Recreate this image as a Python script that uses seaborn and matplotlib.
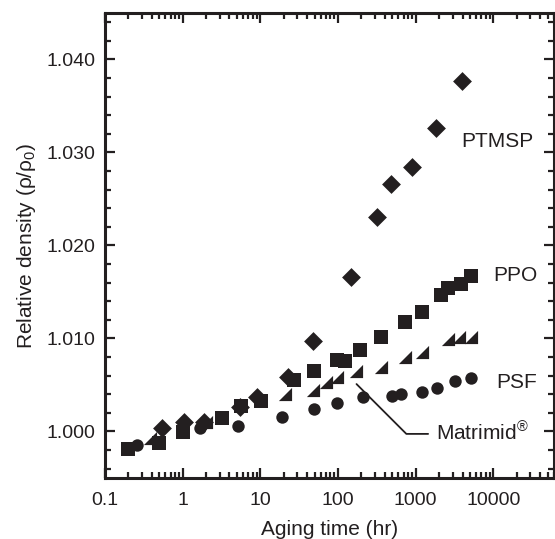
import numpy as np
import pandas as pd
import matplotlib
matplotlib.use('Agg')
import matplotlib.pyplot as plt
import matplotlib.ticker as mticker
import seaborn as sns

# aging time (hr) and relative density for each polymer
ptmsp_t = [0.55, 1.05, 1.9, 5.5, 9.0, 23, 47, 148, 316, 480, 890, 1800, 3900]
ptmsp_rho = [1.0004, 1.0010, 1.0010, 1.0026, 1.0037, 1.0059, 1.0097, 1.0166,
             1.0231, 1.0266, 1.0284, 1.0326, 1.0377]

ppo_t = [0.2, 0.5, 1.0, 3.2, 5.7, 10.2, 27, 49, 97, 123, 192, 360, 720, 1200,
         2090, 2600, 3800, 5070]
ppo_rho = [0.9981, 0.9988, 0.9999, 1.0014, 1.0027, 1.0033, 1.0055, 1.0065,
           1.0077, 1.0076, 1.0088, 1.0102, 1.0118, 1.0128, 1.0147, 1.0154,
           1.0159, 1.0167]

matrimid_t = [0.38, 2.0, 21, 47, 70, 98, 170, 360, 720, 1200, 2570, 3630, 5070]
matrimid_rho = [0.9993, 1.0010, 1.0040, 1.0045, 1.0053, 1.0059, 1.0065, 1.0069,
                1.0080, 1.0085, 1.0099, 1.0102, 1.0102]

psf_t = [0.26, 1.65, 5.2, 19, 49, 98, 210, 490, 650, 1200, 1870, 3240, 5070]
psf_rho = [0.9986, 1.0004, 1.0006, 1.0016, 1.0024, 1.0031, 1.0037, 1.0038,
           1.0040, 1.0042, 1.0047, 1.0054, 1.0058]

x_ticks = [0.1, 1, 10, 100, 1000, 10000]
y_ticks = [1.000, 1.010, 1.020, 1.030, 1.040]

sns.set_style('ticks')
plt.rcParams['font.family'] = ['Liberation Sans', 'DejaVu Sans']
plt.rcParams['mathtext.fontset'] = 'custom'
plt.rcParams['mathtext.rm'] = 'Liberation Sans'
plt.rcParams['mathtext.it'] = 'Liberation Sans:italic'

ink = '#231f20'
tri = [(-1, -1), (1, -1), (1, 1), (-1, -1)]

series = [
    (ptmsp_t, ptmsp_rho, 'D', 92),
    (ppo_t, ppo_rho, 's', 95),
    (matrimid_t, matrimid_rho, tri, 90),
    (psf_t, psf_rho, 'o', 80),
]

fig = plt.figure(figsize=(5.55, 5.39), dpi=100)
ax = fig.add_axes([0.189, 0.1132, 0.809, 0.8627])

for t, rho, mk, s in series:
    df = pd.DataFrame({'t': t, 'rho': rho})
    sns.scatterplot(data=df, x='t', y='rho', marker=mk, s=s, color=ink,
                    linewidth=0, ax=ax, zorder=3)

ax.set_xscale('log')
ax.set_xlim(0.1, 60000)
ax.set_ylim(0.995, 1.045)
ax.set_xticks(x_ticks)
ax.xaxis.set_major_formatter(mticker.FuncFormatter(lambda v, p: f'{v:g}'))
ax.xaxis.set_minor_locator(mticker.LogLocator(base=10, subs=np.arange(2, 10)))
ax.xaxis.set_minor_formatter(mticker.NullFormatter())
ax.set_yticks(y_ticks)
ax.yaxis.set_major_formatter(mticker.FormatStrFormatter('%.3f'))
ax.yaxis.set_minor_locator(mticker.MultipleLocator(0.002))

for sp in ax.spines.values():
    sp.set_linewidth(2.2)
    sp.set_color(ink)
ax.tick_params(which='both', direction='in', top=True, right=True,
               color=ink, width=1.6)
ax.tick_params(which='major', length=7.5, labelsize=14, pad=7, labelcolor=ink)
ax.tick_params(axis='x', which='major', pad=10)
ax.tick_params(which='minor', length=4)

ax.set_xlabel('Aging time (hr)', fontsize=15, color=ink, labelpad=8)
ax.set_ylabel('Relative density (ρ/ρ$_0$)', fontsize=15, color=ink, labelpad=6)

ax.text(3900, 1.0312, 'PTMSP', fontsize=15, color=ink, ha='left', va='center')
ax.text(10000, 1.0168, 'PPO', fontsize=15, color=ink, ha='left', va='center')
ax.text(11000, 1.0053, 'PSF', fontsize=15, color=ink, ha='left', va='center')
ax.annotate('Matrimid$^{®}$', xy=(173, 1.0051), xytext=(1800, 0.9990),
            textcoords='data', fontsize=15, color=ink, ha='left', va='baseline',
            arrowprops=dict(arrowstyle='-', color=ink, lw=1.3, shrinkA=3, shrinkB=0,
                            relpos=(0, 0.47),
                            connectionstyle='angle,angleA=0,angleB=-45,rad=0'))

fig.savefig('out.png', dpi=100)
